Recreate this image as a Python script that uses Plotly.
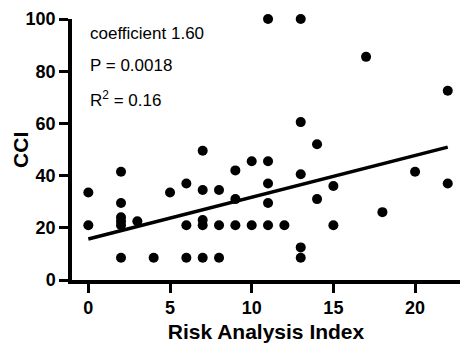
import plotly.graph_objects as go

# Data
risk_index = [0, 0,
              2, 2, 2, 2, 2, 2,
              3, 4, 5,
              6, 6, 6,
              7, 7, 7, 7, 7,
              8, 8, 8,
              9, 9, 9,
              10, 10,
              11, 11, 11, 11, 11,
              12,
              13, 13, 13, 13, 13,
              14, 14,
              15, 15,
              17, 18, 20,
              22, 22]
cci = [33.5, 21,
       41.5, 29.5, 24, 22.5, 21, 8.5,
       22.5, 8.5, 33.5,
       37, 21, 8.5,
       49.5, 34.5, 23, 21, 8.5,
       34.5, 21, 8.5,
       42, 31, 21,
       45.5, 21,
       100, 45.5, 37, 29.5, 21,
       21,
       100, 60.5, 40.5, 12.5, 8.5,
       52, 31,
       36, 21,
       85.5, 26, 41.5,
       72.5, 37]

coefficient = 1.60
intercept = 15.7
fit_x = [0, 22]
fit_y = [intercept + coefficient * v for v in fit_x]

x_ticks = [0, 5, 10, 15, 20]
y_ticks = [0, 20, 40, 60, 80, 100]
stats_text = ["coefficient 1.60", "P = 0.0018", "R<sup>2</sup> = 0.16"]
stats_y = [94.5, 82, 69.5]

fig = go.Figure()
fig.add_trace(go.Scatter(x=risk_index, y=cci, mode="markers",
                         marker=dict(color="black", size=10),
                         cliponaxis=False, showlegend=False))
fig.add_trace(go.Scatter(x=fit_x, y=fit_y, mode="lines",
                         line=dict(color="black", width=3.5),
                         showlegend=False))

for t, yv in zip(stats_text, stats_y):
    fig.add_annotation(x=0, y=yv, text=t, showarrow=False, xanchor="left",
                       yanchor="middle",
                       font=dict(family="Liberation Sans, Arial", size=17, color="black"))

axis_font = dict(family="Liberation Sans, Arial", size=18, color="black", weight="bold")
title_font = dict(family="Liberation Sans, Arial", size=21, color="black", weight="bold")

# y-axis title placed as a rotated annotation
fig.add_annotation(xref="paper", yref="paper", x=-0.133, y=0.5, text="CCI",
                   textangle=-90, showarrow=False, xanchor="center", yanchor="middle",
                   font=title_font)

fig.update_layout(
    width=460, height=343,
    margin=dict(l=72, r=0, t=19, b=63),
    paper_bgcolor="white", plot_bgcolor="white",
    xaxis=dict(range=[-1, 22.75], tickvals=x_ticks, ticks="outside", ticklen=9,
               tickwidth=3, tickcolor="black", showline=True, linewidth=3.5,
               linecolor="black", showgrid=False, zeroline=False,
               tickfont=axis_font, automargin=False,
               title=dict(text="Risk Analysis Index", font=title_font, standoff=14)),
    yaxis=dict(range=[0, 100], tickvals=y_ticks, ticks="outside", ticklen=9,
               tickwidth=3, tickcolor="black", showline=True, linewidth=3.5,
               linecolor="black", showgrid=False, zeroline=False,
               tickfont=axis_font, automargin=False),
)

fig.write_html("out.html", config={"displayModeBar": False},
               post_script="document.body.style.margin='0';document.body.style.overflow='hidden';")
